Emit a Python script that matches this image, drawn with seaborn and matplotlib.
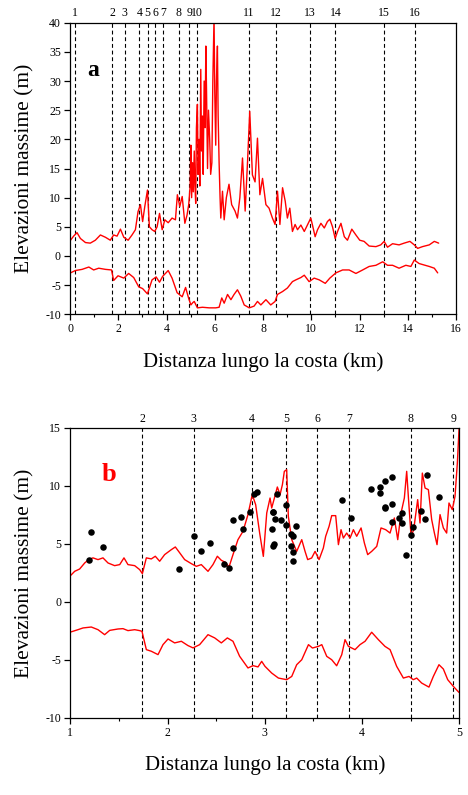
import matplotlib
matplotlib.use("Agg")
import matplotlib.pyplot as plt
import seaborn as sns
import pandas as pd
from matplotlib.ticker import MultipleLocator

# ---------------- data ----------------
a_up_km = [0.02, 0.15, 0.29, 0.43, 0.64, 0.84, 1.05, 1.26, 1.47, 1.67, 1.81, 1.95, 2.09, 2.23,
           2.41, 2.57, 2.71, 2.82, 2.92, 3.01, 3.10, 3.21, 3.29, 3.40, 3.51, 3.61, 3.71, 3.82,
           3.93, 4.07, 4.23, 4.37, 4.45, 4.55, 4.65, 4.76, 4.85, 4.92, 4.98, 5.01, 5.04, 5.08,
           5.11, 5.15, 5.18, 5.21, 5.24, 5.28, 5.31, 5.35, 5.38, 5.42, 5.45, 5.49, 5.52, 5.56,
           5.60, 5.63, 5.66, 5.70, 5.74, 5.79, 5.83, 5.88, 5.92, 5.97, 6.00, 6.04, 6.07, 6.11,
           6.14, 6.18, 6.22, 6.25,
           6.32, 6.39, 6.48, 6.59, 6.70, 6.84, 6.94, 7.04, 7.15, 7.26, 7.36, 7.45, 7.56, 7.67,
           7.77, 7.87, 7.98, 8.12, 8.25, 8.39, 8.50, 8.60, 8.70, 8.81, 8.92, 9.01, 9.11, 9.22,
           9.33, 9.43, 9.57, 9.71, 9.84, 9.98, 10.05, 10.16, 10.26, 10.40, 10.54, 10.67, 10.77,
           10.88, 10.99, 11.09, 11.23, 11.37, 11.50, 11.68, 11.85, 12.01, 12.19, 12.40, 12.68,
           12.88, 13.02, 13.16, 13.37, 13.64, 13.85, 14.09, 14.27, 14.41, 14.61, 14.89, 15.10, 15.28]
a_up_m = [2.7, 3.4, 4.0, 3.0, 2.3, 2.2, 2.7, 3.6, 3.2, 2.7, 3.6, 3.4, 4.6, 3.2,
          2.7, 3.6, 4.5, 7.6, 8.8, 5.9, 8.5, 11.3, 5.0, 4.5, 4.2, 5.0, 7.3, 4.5,
          6.2, 5.7, 6.5, 6.2, 10.5, 8.5, 10.2, 5.6, 7.0, 8.8, 12.0, 19.0, 10.0, 16.0,
          11.0, 18.0, 12.0, 9.0, 22.0, 26.0, 14.0, 20.0, 12.0, 32.0, 18.0, 24.0, 14.0, 30.0,
          22.0, 36.0, 28.0, 15.0, 25.0, 20.0, 14.0, 16.0, 30.0, 41.0, 28.0, 19.0, 30.0, 36.0,
          24.0, 16.0, 10.0, 6.5,
          11.1, 6.2, 10.0, 12.3, 8.8, 7.7, 6.5, 10.0, 16.8, 7.7, 16.3, 24.8, 13.9, 12.7,
          20.2, 10.5, 13.3, 8.8, 8.2, 6.5, 5.4, 11.1, 5.4, 11.7, 9.4, 6.5, 8.2, 4.2,
          5.4, 4.5, 5.3, 4.2, 5.3, 6.5, 5.3, 3.3, 4.5, 5.6, 4.8, 5.9, 6.3,
          5.0, 3.0, 4.2, 5.6, 3.3, 2.7, 4.6, 3.6, 2.7, 2.5, 1.7, 1.6,
          1.9, 2.5, 1.5, 2.1, 1.9, 2.2, 2.5, 1.9, 1.3, 1.6, 1.9, 2.5, 2.2]

a_low_km = [0.02, 0.22, 0.50, 0.78, 0.98, 1.19, 1.47, 1.72, 1.81, 1.99, 2.23, 2.43, 2.64, 2.85,
            3.01, 3.21, 3.40, 3.57, 3.71, 3.84, 4.07, 4.23, 4.44, 4.65, 4.79, 4.92, 5.01, 5.09,
            5.15, 5.28, 5.49, 5.77, 6.04, 6.18, 6.29, 6.39, 6.53, 6.67, 6.80, 6.94, 7.08, 7.22,
            7.43, 7.63, 7.77, 7.91, 8.12, 8.32, 8.50, 8.60, 8.81, 9.01, 9.22, 9.36, 9.57, 9.71,
            9.91, 10.12, 10.33, 10.58, 10.77, 11.02, 11.30, 11.57, 11.85, 12.13, 12.40, 12.68,
            12.96, 13.16, 13.37, 13.64, 13.92, 14.13, 14.27, 14.47, 14.72, 14.89, 15.10, 15.24]
a_low_m = [-2.9, -2.5, -2.3, -1.9, -2.4, -2.1, -2.3, -2.4, -4.2, -3.4, -3.8, -3.0, -3.7, -5.3,
           -5.6, -6.5, -4.1, -3.6, -4.5, -3.5, -2.5, -3.8, -6.3, -7.0, -5.4, -7.3, -8.4, -8.0,
           -7.8, -8.9, -8.8, -8.9, -8.9, -8.8, -7.2, -8.1, -6.6, -7.5, -6.6, -5.8, -6.9, -8.4,
           -8.9, -8.6, -7.8, -8.4, -7.5, -8.4, -7.8, -6.6, -6.1, -5.5, -4.4, -4.1, -3.7, -3.3,
           -4.4, -3.8, -4.1, -4.7, -3.8, -2.9, -2.4, -2.4, -3.0, -2.4, -1.8, -1.6,
           -1.0, -1.6, -1.6, -2.1, -1.6, -1.8, -0.7, -1.3, -1.6, -1.8, -2.1, -2.9]

a_sections_km = [0.21, 1.74, 2.27, 2.87, 3.22, 3.54, 3.87, 4.50, 4.94, 5.27,
                 7.41, 8.55, 9.95, 11.0, 13.0, 14.3]
a_section_labels = [str(i) for i in range(1, 17)]

b_up_km = [1.004, 1.045, 1.096, 1.148, 1.189, 1.233, 1.285, 1.336, 1.388, 1.456, 1.508, 1.552,
           1.593, 1.662, 1.713, 1.741, 1.782, 1.833, 1.874, 1.919, 1.970, 2.039, 2.080, 2.114,
           2.176, 2.245, 2.296, 2.347, 2.416, 2.467, 2.512, 2.553, 2.594, 2.632, 2.673, 2.724,
           2.776, 2.827, 2.871, 2.906, 2.947, 2.985, 3.020, 3.054, 3.071, 3.099, 3.129, 3.157,
           3.181, 3.201, 3.225, 3.242, 3.277, 3.328, 3.380, 3.414, 3.441, 3.482, 3.517, 3.558,
           3.602, 3.626, 3.661, 3.688, 3.729, 3.757, 3.784, 3.808, 3.842, 3.877, 3.911, 3.945,
           3.990, 4.024, 4.058, 4.099, 4.151, 4.195, 4.243, 4.288, 4.332, 4.367, 4.401, 4.435,
           4.459, 4.476, 4.504, 4.531, 4.572, 4.596, 4.620, 4.648, 4.682, 4.716, 4.744, 4.771,
           4.802, 4.836, 4.870, 4.894, 4.928, 4.956, 4.980, 4.997, 5.0]
b_up_m = [2.29, 2.64, 2.84, 3.36, 3.65, 3.80, 3.65, 3.80, 3.36, 3.13, 3.22, 3.80,
          3.22, 3.13, 2.79, 2.44, 3.80, 3.71, 3.94, 3.51, 4.08, 4.51, 4.74, 4.36,
          3.65, 3.30, 3.07, 3.22, 2.64, 3.22, 3.94, 3.59, 3.42, 3.01, 4.08, 5.37,
          6.09, 7.53, 9.25, 8.39, 5.95, 3.93, 7.67, 8.96, 8.10, 8.96, 9.91, 9.25,
          10.11, 11.26, 11.40, 7.38, 5.37, 4.36, 5.37, 4.36, 3.65, 3.79, 4.36, 3.65,
          4.65, 5.66, 6.52, 7.44, 7.44, 4.94, 6.23, 5.51, 5.94, 5.51, 6.23, 5.66,
          6.38, 5.08, 4.08, 4.36, 4.79, 6.38, 6.23, 5.94, 7.24, 5.37, 7.67, 8.96,
          11.26, 9.10, 5.66, 6.23, 8.82, 6.81, 11.11, 9.82, 9.68, 7.10, 5.94, 4.94,
          7.53, 6.38, 5.94, 8.53, 7.96, 9.10, 11.97, 14.85, 16.0]

b_low_km = [1.004, 1.079, 1.131, 1.216, 1.285, 1.353, 1.405, 1.490, 1.542, 1.593, 1.662, 1.713,
            1.737, 1.782, 1.833, 1.902, 1.953, 2.005, 2.073, 2.142, 2.210, 2.262, 2.330, 2.416,
            2.485, 2.553, 2.615, 2.673, 2.741, 2.827, 2.879, 2.930, 2.968, 3.002, 3.071, 3.140,
            3.225, 3.277, 3.328, 3.380, 3.449, 3.490, 3.551, 3.586, 3.637, 3.688, 3.739, 3.791,
            3.825, 3.860, 3.928, 3.979, 4.031, 4.099, 4.168, 4.236, 4.288, 4.356, 4.425, 4.483,
            4.527, 4.562, 4.613, 4.688, 4.733, 4.791, 4.836, 4.881, 4.939, 4.997]
b_low_m = [-2.59, -2.39, -2.24, -2.16, -2.39, -2.82, -2.45, -2.33, -2.30, -2.47, -2.39, -2.47,
           -2.53, -4.11, -4.25, -4.54, -3.68, -3.19, -3.53, -3.39, -3.76, -3.96, -3.68, -2.82,
           -3.10, -3.53, -3.10, -3.39, -4.68, -5.69, -5.49, -5.60, -5.12, -5.55, -6.13, -6.56,
           -6.70, -6.42, -5.41, -4.98, -3.68, -3.97, -3.83, -3.68, -4.69, -4.98, -5.50, -4.55,
           -3.25, -3.83, -4.11, -3.68, -3.39, -2.61, -3.25, -3.83, -4.11, -5.55, -6.56, -6.42,
           -6.70, -6.56, -6.99, -7.34, -6.42, -5.41, -5.78, -6.70, -7.28, -7.80]

b_obs_km = [1.189, 1.216, 1.333, 2.121, 2.269, 2.341, 2.440, 2.577, 2.632, 2.676, 2.676, 2.752,
            2.772, 2.848, 2.892, 2.919, 3.081, 3.089, 3.129, 3.106, 3.170, 3.078, 3.218, 3.221,
            3.318, 3.081, 3.098, 3.273, 3.294, 3.273, 3.294, 3.294, 3.797, 3.890, 4.095, 4.188,
            4.188, 4.236, 4.308, 4.236, 4.236, 4.308, 4.308, 4.380, 4.407, 4.407, 4.455, 4.500,
            4.527, 4.603, 4.647, 4.671, 4.791]
b_obs_m = [3.65, 6.06, 4.74, 2.81, 5.66, 4.36, 5.05, 3.24, 2.96, 4.65, 7.07, 7.33,
           6.26, 7.76, 9.34, 9.51, 7.78, 7.73, 9.28, 7.15, 7.07, 6.26, 8.36, 6.64,
           6.52, 4.85, 5.00, 5.86, 5.66, 4.85, 4.34, 3.53, 8.82, 7.24, 9.77, 9.88,
           9.40, 10.46, 10.78, 8.22, 8.07, 8.41, 6.86, 7.21, 7.64, 6.78, 4.05, 5.74,
           6.43, 7.87, 7.16, 10.97, 9.05]

b_sections_km = [1.74, 2.27, 2.87, 3.22, 3.54, 3.87, 4.50, 4.94]
b_section_labels = ["2", "3", "4", "5", "6", "7", "8", "9"]

# ---------------- style ----------------
sns.set_style("ticks")
plt.rcParams["font.family"] = ["Liberation Serif", "DejaVu Serif"]
plt.rcParams["axes.unicode_minus"] = False
plt.rcParams["axes.linewidth"] = 0.9
plt.rcParams["xtick.major.width"] = 0.9
plt.rcParams["ytick.major.width"] = 0.9
plt.rcParams["xtick.minor.width"] = 0.8
plt.rcParams["xtick.color"] = "black"
plt.rcParams["ytick.color"] = "black"
plt.rcParams["xtick.labelcolor"] = "black"
plt.rcParams["ytick.labelcolor"] = "black"
plt.rcParams["axes.edgecolor"] = "black"
plt.rcParams["axes.labelcolor"] = "black"
plt.rcParams["text.color"] = "black"

fig = plt.figure(figsize=(4.68, 7.95), dpi=100)
ax_a = fig.add_axes([0.1496, 0.6047, 0.8248, 0.3667])
ax_b = fig.add_axes([0.1502, 0.0969, 0.8312, 0.3648])

red = "#ff0000"

def style_axis(ax):
    for s in ax.spines.values():
        s.set_visible(True)
        s.set_color("black")
    ax.tick_params(axis="both", which="major", direction="out", length=4.5,
                   labelsize=8.5, pad=2, colors="black")
    ax.tick_params(axis="x", which="minor", direction="out", length=2.5, colors="black")
    ax.tick_params(axis="y", which="minor", length=0)
    ax.set_xlabel("Distanza lungo la costa (km)", fontsize=15, labelpad=12, color="black")
    ax.set_ylabel("Elevazioni massime (m)", fontsize=15.5, labelpad=8, color="black")

# ---- panel a ----
df_au = pd.DataFrame({"km": a_up_km, "m": a_up_m})
df_al = pd.DataFrame({"km": a_low_km, "m": a_low_m})
sns.lineplot(data=df_au, x="km", y="m", ax=ax_a, color=red, lw=1.0, estimator=None, sort=False)
sns.lineplot(data=df_al, x="km", y="m", ax=ax_a, color=red, lw=1.0, estimator=None, sort=False)
for xk, lab in zip(a_sections_km, a_section_labels):
    ax_a.axvline(xk, color="black", lw=0.8, ls=(0, (3.5, 2.5)), zorder=1)
    ax_a.text(xk, 40.6, lab, ha="center", va="bottom", fontsize=8.5, color="black")
ax_a.set_xlim(0, 16)
ax_a.set_ylim(-10, 40)
ax_a.xaxis.set_major_locator(MultipleLocator(2))
ax_a.xaxis.set_minor_locator(MultipleLocator(1))
ax_a.yaxis.set_major_locator(MultipleLocator(5))
style_axis(ax_a)
ax_a.text(0.045, 0.835, "a", transform=ax_a.transAxes, fontsize=17, fontweight="bold",
          ha="left", va="center", color="black")

# ---- panel b ----
df_bu = pd.DataFrame({"km": b_up_km, "m": b_up_m})
df_bl = pd.DataFrame({"km": b_low_km, "m": b_low_m})
df_obs = pd.DataFrame({"km": b_obs_km, "m": b_obs_m})
sns.lineplot(data=df_bu, x="km", y="m", ax=ax_b, color=red, lw=1.0, estimator=None, sort=False)
sns.lineplot(data=df_bl, x="km", y="m", ax=ax_b, color=red, lw=1.0, estimator=None, sort=False)
sns.scatterplot(data=df_obs, x="km", y="m", ax=ax_b, color="black", s=22, edgecolor="black",
                linewidth=0, zorder=3)
for xk, lab in zip(b_sections_km, b_section_labels):
    ax_b.axvline(xk, color="black", lw=0.8, ls=(0, (3.5, 2.5)), zorder=1)
    ax_b.text(xk, 15.25, lab, ha="center", va="bottom", fontsize=8.5, color="black")
ax_b.set_xlim(1, 5)
ax_b.set_ylim(-10, 15)
ax_b.xaxis.set_major_locator(MultipleLocator(1))
ax_b.xaxis.set_minor_locator(MultipleLocator(0.5))
ax_b.yaxis.set_major_locator(MultipleLocator(5))
style_axis(ax_b)
ax_b.text(0.08, 0.84, "b", transform=ax_b.transAxes, fontsize=19, fontweight="bold",
          color=red, ha="left", va="center")

fig.savefig("out.png", dpi=100)
